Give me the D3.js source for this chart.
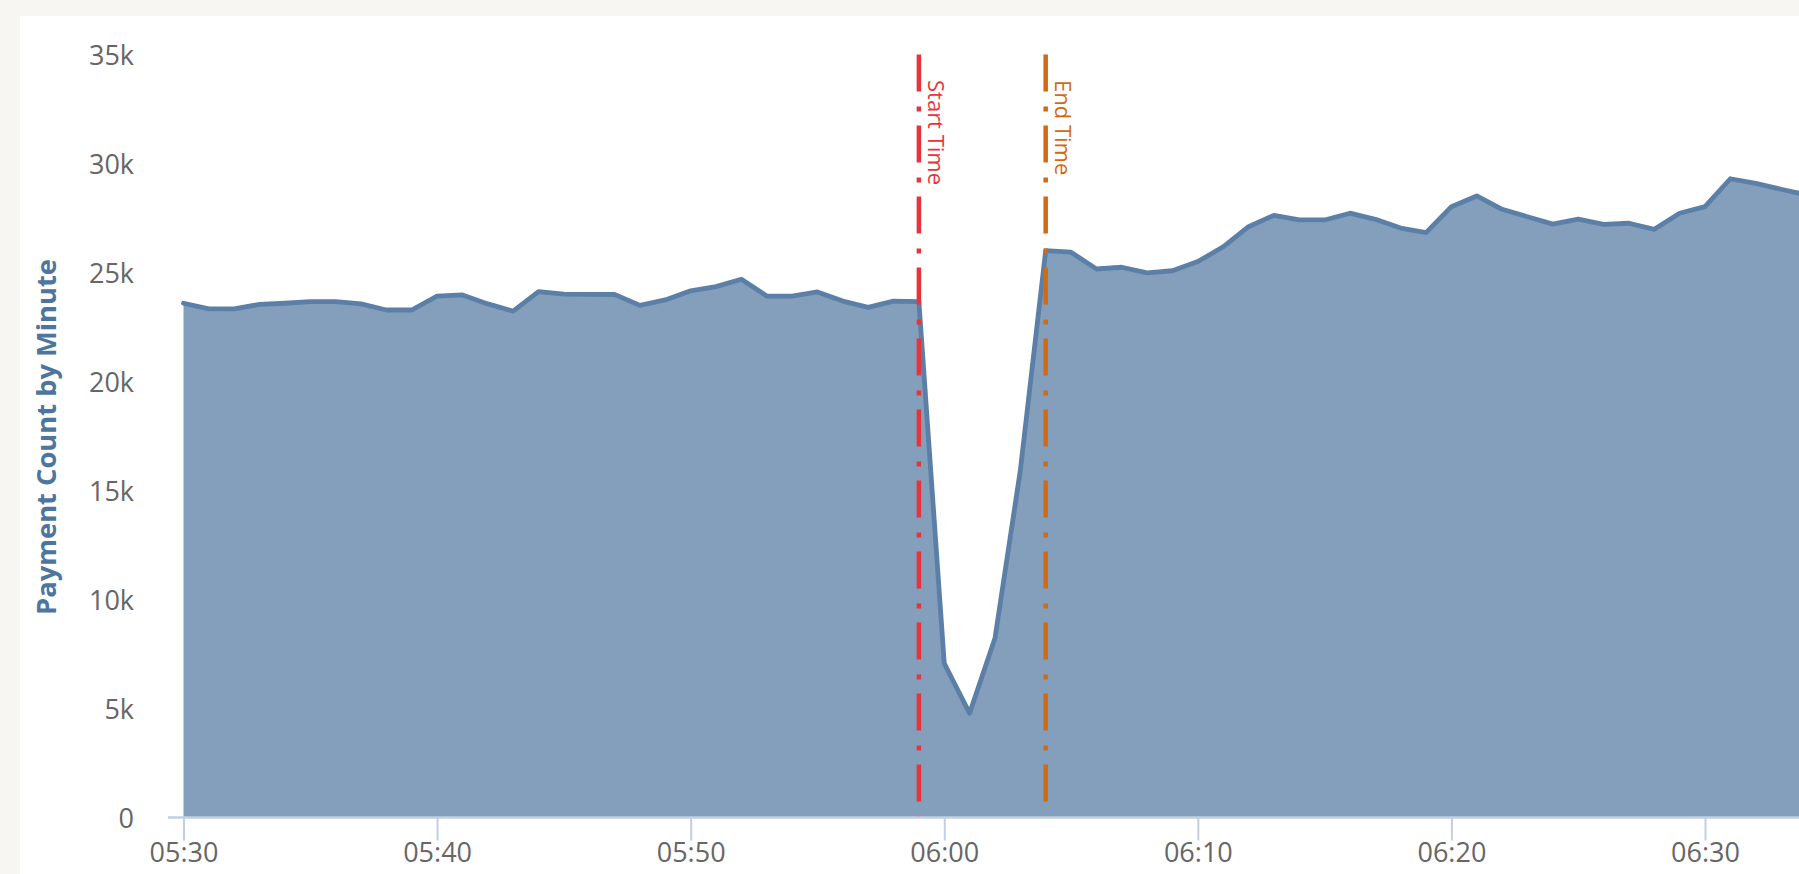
<!DOCTYPE html>
<html>
<head>
<meta charset="utf-8">
<title>Payment Count by Minute</title>
<script src="https://cdn.jsdelivr.net/npm/d3@7"></script>
<style>
  html, body { margin: 0; padding: 0; background: #f7f6f2; overflow: hidden; }
  svg { display: block; }
</style>
</head>
<body>
<svg id="chart" width="1799" height="874"></svg>
<script>
// Minute buckets (HH:MM) and the payment count recorded in each one
const minutes = [
  "05:30","05:31","05:32","05:33","05:34","05:35","05:36","05:37","05:38","05:39",
  "05:40","05:41","05:42","05:43","05:44","05:45","05:46","05:47","05:48","05:49",
  "05:50","05:51","05:52","05:53","05:54","05:55","05:56","05:57","05:58","05:59",
  "06:00","06:01","06:02","06:03","06:04","06:05","06:06","06:07","06:08","06:09",
  "06:10","06:11","06:12","06:13","06:14","06:15","06:16","06:17","06:18","06:19",
  "06:20","06:21","06:22","06:23","06:24","06:25","06:26","06:27","06:28","06:29",
  "06:30","06:31","06:32","06:33","06:34"
];
const paymentCounts = [
  23590, 23330, 23330, 23540, 23590, 23660, 23660, 23560, 23280, 23280,
  23920, 23970, 23560, 23230, 24120, 24010, 24000, 23990, 23490, 23740,
  24160, 24350, 24690, 23920, 23920, 24110, 23690, 23400, 23690, 23660,
   7070,  4780,  8220, 15920, 26000, 25930, 25160, 25240, 24980, 25080,
  25500, 26180, 27100, 27620, 27410, 27410, 27720, 27440, 27040, 26830,
  28020, 28510, 27900, 27560, 27220, 27450, 27210, 27260, 26980, 27720,
  28020, 29300, 29090, 28820, 28560
];

// Axis ticks
const xTickLabels = ["05:30", "05:40", "05:50", "06:00", "06:10", "06:20", "06:30"];
const yTickValues = [0, 5000, 10000, 15000, 20000, 25000, 30000, 35000];

// Incident window markers
const markerLabels = ["Start Time", "End Time"];
const markerTimes = ["05:59", "06:04"];

const yAxisTitle = "Payment Count by Minute";

// ---- layout & styling ----
const W = 1799, H = 874;
const plotLeft = 183.5, plotTop = 54.5, plotBottom = 817.5;
const pxPerHour = 1521.5;                     // 05:30 -> 06:30 span
const seriesColor = "#5b7fa6";
const markerColors = ["#e8333b", "#d4690f"];
const axisLineColor = "#c0d0e0";

const parseTime = d3.timeParse("%H:%M");
const data = minutes.map((m, i) => ({ t: parseTime(m), v: paymentCounts[i] }));

const x = d3.scaleTime()
  .domain([parseTime(xTickLabels[0]), parseTime(xTickLabels[xTickLabels.length - 1])])
  .range([plotLeft, plotLeft + pxPerHour]);

const y = d3.scaleLinear()
  .domain([0, d3.max(yTickValues)])
  .range([plotBottom, plotTop]);

const svg = d3.select("#chart");

// white chart panel
svg.append("rect")
  .attr("x", 20).attr("y", 16)
  .attr("width", W - 20).attr("height", H - 16)
  .attr("fill", "#ffffff");

// area series
const area = d3.area()
  .x(d => x(d.t))
  .y0(y(0))
  .y1(d => y(d.v));

const line = d3.line()
  .x(d => x(d.t))
  .y(d => y(d.v));

svg.append("path")
  .datum(data)
  .attr("d", area)
  .attr("fill", seriesColor)
  .attr("fill-opacity", 0.75);

svg.append("path")
  .datum(data)
  .attr("d", line)
  .attr("fill", "none")
  .attr("stroke", seriesColor)
  .attr("stroke-width", 4.8)
  .attr("stroke-linejoin", "round")
  .attr("stroke-linecap", "round");

// vertical marker lines (long-dash-dot) with rotated labels
markerTimes.forEach((mt, i) => {
  const mx = x(parseTime(mt));
  svg.append("line")
    .attr("x1", mx).attr("x2", mx)
    .attr("y1", y(d3.max(yTickValues))).attr("y2", y(0))
    .attr("stroke", markerColors[i])
    .attr("stroke-width", 4.5)
    .attr("stroke-dasharray", "37,15,5,14");
  svg.append("text")
    .attr("transform", `translate(${mx + 9.5},${plotTop + 25.5}) rotate(90)`)
    .attr("font-family", "'Open Sans', sans-serif")
    .attr("font-size", 22)
    .attr("fill", markerColors[i])
    .text(markerLabels[i]);
});

// y axis: labels only
const yAxis = d3.axisLeft(y)
  .tickValues(yTickValues)
  .tickFormat(d => d === 0 ? "0" : (d / 1000) + "k")
  .tickSize(0)
  .tickPadding(plotLeft - 134);

const gy = svg.append("g")
  .attr("transform", `translate(${plotLeft},0)`)
  .call(yAxis);
gy.select(".domain").remove();
gy.selectAll("text")
  .attr("font-family", "'Open Sans', sans-serif")
  .attr("font-size", 27)
  .attr("fill", "#666666")
  .attr("dy", "0.36em");

// x axis
const xAxis = d3.axisBottom(x)
  .tickValues(xTickLabels.map(parseTime))
  .tickFormat(d3.timeFormat("%H:%M"))
  .tickSizeInner(23)
  .tickSizeOuter(0);

const gx = svg.append("g")
  .attr("transform", `translate(0,${plotBottom})`)
  .call(xAxis);
gx.select(".domain").remove();
gx.selectAll(".tick line")
  .attr("stroke", axisLineColor)
  .attr("stroke-width", 2);
gx.selectAll("text")
  .attr("font-family", "'Open Sans', sans-serif")
  .attr("font-size", 27)
  .attr("fill", "#666666")
  .attr("y", 44)
  .attr("dy", 0);

// x axis baseline
svg.append("line")
  .attr("x1", plotLeft - 15.5).attr("x2", W)
  .attr("y1", plotBottom).attr("y2", plotBottom)
  .attr("stroke", axisLineColor)
  .attr("stroke-width", 2.5);

// y axis title
svg.append("text")
  .attr("transform", `translate(56,${(plotTop + plotBottom) / 2 + 1}) rotate(-90)`)
  .attr("text-anchor", "middle")
  .attr("font-family", "'Open Sans', sans-serif")
  .attr("font-weight", "bold")
  .attr("font-size", 27.3)
  .attr("fill", "#4d759e")
  .text(yAxisTitle);
</script>
</body>
</html>
